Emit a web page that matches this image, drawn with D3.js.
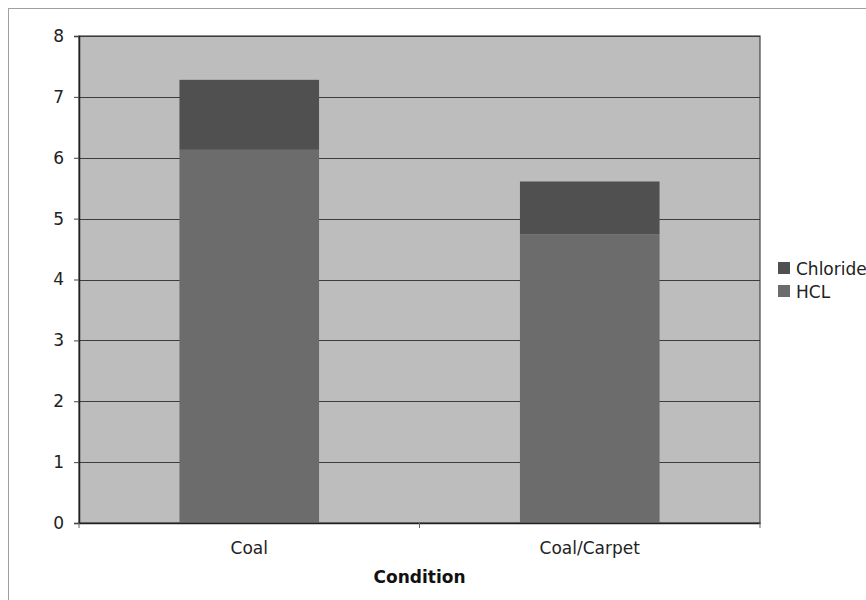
<!DOCTYPE html>
<html>
<head>
<meta charset="utf-8">
<script src="https://cdn.jsdelivr.net/npm/d3@7"></script>
<style>
  body { margin: 0; background: #fff; }
  svg { font-family: "DejaVu Sans", Verdana, sans-serif; }
</style>
</head>
<body>
<div id="chart"></div>
<script>
// chart data
var conditions = ["Coal", "Coal/Carpet"];
var hcl = [6.13, 4.74];
var chloride = [1.15, 0.87];
var seriesNames = ["HCL", "Chloride"];
var yTicks = [0, 1, 2, 3, 4, 5, 6, 7, 8];

var width = 866, height = 600;
var margin = {top: 36, right: 106, bottom: 77, left: 79};
var plotW = width - margin.left - margin.right,
    plotH = height - margin.top - margin.bottom;

var colors = {HCL: "#6c6c6c", Chloride: "#505050"};
var fontSize = 17;

var svg = d3.select("#chart").append("svg")
    .attr("width", width)
    .attr("height", height);

// outer chart border
svg.append("rect")
    .attr("x", 8.5).attr("y", 8.5)
    .attr("width", width + 20).attr("height", height + 20)
    .attr("fill", "#fff")
    .attr("stroke", "#a0a0a0")
    .attr("stroke-width", 1);

var g = svg.append("g")
    .attr("transform", "translate(" + margin.left + "," + margin.top + ")");

var x = d3.scaleBand()
    .domain(conditions)
    .range([0, plotW])
    .paddingInner(0.59)
    .paddingOuter(0.295);

var y = d3.scaleLinear()
    .domain([0, 8])
    .range([plotH, 0]);

// plot background
g.append("rect")
    .attr("width", plotW)
    .attr("height", plotH)
    .attr("fill", "#bdbdbd")
    .attr("stroke", "#444")
    .attr("stroke-width", 1.2);

// gridlines
g.selectAll("line.grid")
    .data(yTicks.slice(1))
    .enter().append("line")
    .attr("class", "grid")
    .attr("x1", 0).attr("x2", plotW)
    .attr("y1", function(d) { return Math.round(y(d)) + 0.5; })
    .attr("y2", function(d) { return Math.round(y(d)) + 0.5; })
    .attr("stroke", "#3c3c3c")
    .attr("stroke-width", 1);

// stack the series
var rows = conditions.map(function(c, i) {
  return {condition: c, HCL: hcl[i], Chloride: chloride[i]};
});
var stacked = d3.stack().keys(seriesNames)(rows);

g.selectAll("g.series")
    .data(stacked)
    .enter().append("g")
    .attr("class", "series")
    .attr("fill", function(d) { return colors[d.key]; })
  .selectAll("rect")
    .data(function(d) { return d; })
    .enter().append("rect")
    .attr("x", function(d) { return x(d.data.condition); })
    .attr("width", x.bandwidth())
    .attr("y", function(d) { return y(d[1]); })
    .attr("height", function(d) { return y(d[0]) - y(d[1]); });

// y axis
var yAxis = g.append("g")
    .call(d3.axisLeft(y).tickValues(yTicks).tickSize(5).tickPadding(10).tickFormat(d3.format("d")));
yAxis.attr("font-size", fontSize).attr("font-family", null);
yAxis.select(".domain").attr("stroke", "#222").attr("stroke-width", 1.5);
yAxis.selectAll(".tick line").attr("stroke", "#444");
yAxis.selectAll("text").attr("fill", "#222");

// x axis: ticks at category boundaries
var xAxis = g.append("g")
    .attr("transform", "translate(0," + plotH + ")")
    .call(d3.axisBottom(x).tickSize(0).tickPadding(19));
xAxis.attr("font-size", fontSize).attr("font-family", null);
xAxis.select(".domain").attr("stroke", "#222").attr("stroke-width", 1.5);
xAxis.selectAll("text").attr("fill", "#222");

g.selectAll("line.xtick")
    .data(d3.range(conditions.length + 1))
    .enter().append("line")
    .attr("class", "xtick")
    .attr("x1", function(d) { return d * x.step(); })
    .attr("x2", function(d) { return d * x.step(); })
    .attr("y1", plotH).attr("y2", plotH + 5)
    .attr("stroke", "#666");

// x axis title
g.append("text")
    .attr("x", plotW / 2)
    .attr("y", plotH + 60)
    .attr("text-anchor", "middle")
    .attr("font-size", fontSize)
    .attr("font-weight", "bold")
    .attr("fill", "#111")
    .text("Condition");

// legend
var legend = svg.append("g")
    .attr("transform", "translate(778,262)");

var legendItems = legend.selectAll("g")
    .data(seriesNames.slice().reverse())
    .enter().append("g")
    .attr("transform", function(d, i) { return "translate(0," + (i * 23) + ")"; });

legendItems.append("rect")
    .attr("width", 12).attr("height", 12)
    .attr("fill", function(d) { return colors[d]; });

legendItems.append("text")
    .attr("x", 18)
    .attr("y", 13)
    .attr("font-size", fontSize)
    .attr("fill", "#222")
    .text(function(d) { return d; });
</script>
</body>
</html>
